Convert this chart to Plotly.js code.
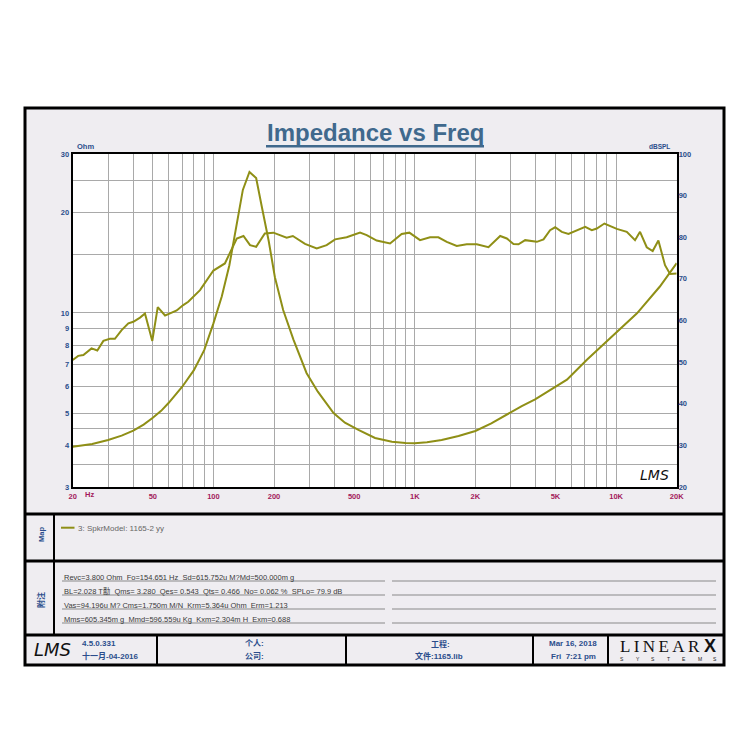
<!DOCTYPE html>
<html><head><meta charset="utf-8">
<script src="https://cdn.plot.ly/plotly-3.0.1.min.js"></script>
<style>html,body{margin:0;padding:0;background:#fff;}#chart{width:750px;height:750px;}</style>
</head><body><div id="chart"></div>
<script>
// ---- data ----
const impFreq = [20,25,30,35,40,45,50,55,60,65,70,80,90,100,110,120,130,140,151,163,174,188,202,222,250,290,330,395,450,525,635,770,900,1000,1150,1360,1650,2000,2400,2920,3400,3960,4900,5700,7140,9700,12700,16500,20000];
const impOhm  = [3.96,4.04,4.15,4.28,4.43,4.62,4.84,5.08,5.37,5.68,6.0,6.73,7.73,9.3,11.2,13.9,18.4,23.4,26.5,25.4,20.8,16.5,12.8,10.2,8.3,6.6,5.8,5.0,4.68,4.45,4.21,4.10,4.07,4.06,4.09,4.15,4.27,4.42,4.66,4.99,5.25,5.5,5.95,6.3,7.22,8.58,9.97,12.0,14.1];
const splFreq = [20,21.3,22.6,24.8,26.5,28.4,30.6,32.4,35,37.8,40,43.2,45.7,49.7,52.9,57.5,60.9,65.7,70.8,75,85.8,100,114,130.6,141,152,163,180,198.6,231,248,285,326,365,402,459,535,577,647,754,861,940,1062,1191,1310,1442,1616,1812,2032,2323,2656,2866,3093,3275,3535,4040,4360,4700,4980,5375,5800,6380,7020,7575,8020,8750,10080,11300,12420,13150,14200,15200,16220,17500,18540,20000];
const splDb   = [50.5,51.5,51.7,53.3,52.8,55.1,55.6,55.6,57.7,59.3,59.7,60.7,61.7,55.1,63.2,61.2,61.7,62.4,63.7,64.5,67.3,72.0,73.7,79.7,80.3,78.1,77.7,80.9,81.1,79.9,80.3,78.4,77.3,78.1,79.5,80.0,81.1,80.5,79.2,78.5,80.8,81.1,79.3,80.0,80.0,78.9,77.9,78.3,78.3,77.6,80.3,79.7,78.4,78.3,79.3,78.9,79.5,81.7,82.4,81.3,80.8,81.7,82.5,81.7,82.1,83.3,82.0,81.3,79.3,81.3,77.6,76.7,79.2,73.3,71.2,71.3];

const xTickVals = [20,30,40,50,60,70,80,90,100,200,300,400,500,600,700,800,900,1000,2000,3000,4000,5000,6000,7000,8000,9000,10000,20000];
const xTickText = ['20','','','50','','','','','100','200','','','500','','','','','1K','2K','','','5K','','','','','10K','20K'];
const yTickVals = [3,3.5,4,4.5,5,6,7,8,9,10,15,20,25,30];
const yTickText = ['3','','4','','5','6','7','8','9','10','','20','','30'];
const y2TickVals = [20,30,40,50,60,70,80,90,100];
const y2TickText = ['20','30','40','50','60','70','80','90','100'];

const titleText = 'Impedance vs Freq';
const legendText = '3: SpkrModel: 1165-2 yy';
const notesRows = [
  'Revc=3.800 Ohm  Fo=154.651 Hz  Sd=615.752u M?Md=500.000m g',
  'BL=2.028 T勫  Qms= 3.280  Qes= 0.543  Qts= 0.466  No= 0.062 %  SPLo= 79.9 dB',
  'Vas=94.196u M? Cms=1.750m M/N  Krm=5.364u Ohm  Erm=1.213',
  'Mms=605.345m g  Mmd=596.559u Kg  Kxm=2.304m H  Exm=0.688'
];

// ---- helpers (pixel -> paper) ----
const px = x => x/750;
const py = y => 1 - y/750;
const SANS = 'Liberation Sans, Arial, sans-serif';
const CJK = 'Liberation Sans, Noto Sans CJK SC, sans-serif';
const OLIVE = '#8f8f16';
const BLUE = '#2b4d8c';
const MAG = '#a3195b';
const BG = '#efedf1';

const PL = 72.7, PR = 676.7, PT = 154, PB = 487;

const traces = [
  {x: impFreq, y: impOhm, type:'scatter', mode:'lines', line:{color:OLIVE, width:2}, xaxis:'x', yaxis:'y', hoverinfo:'skip'},
  {x: splFreq, y: splDb, type:'scatter', mode:'lines', line:{color:OLIVE, width:2}, xaxis:'x', yaxis:'y2', hoverinfo:'skip'}
];

const shapes = [];
const ann = [];
function rect(x0,y0,x1,y1,fill,line,layer){shapes.push({type:'rect',xref:'paper',yref:'paper',x0:px(x0),x1:px(x1),y0:py(y0),y1:py(y1),fillcolor:fill||'rgba(0,0,0,0)',line:line||{width:0},layer:layer||'below'});}
function seg(x0,y0,x1,y1,color,width,layer){shapes.push({type:'line',xref:'paper',yref:'paper',x0:px(x0),x1:px(x1),y0:py(y0),y1:py(y1),line:{color:color,width:width},layer:layer||'above'});}
function txt(x,y,text,opt){opt=opt||{};ann.push({xref:'paper',yref:'paper',x:px(x),y:py(y),text:text,showarrow:false,xanchor:opt.xa||'center',yanchor:'middle',font:Object.assign({family:SANS,size:8,color:BLUE},opt.font||{}),textangle:opt.angle||0});}

// backgrounds
rect(25,108,724,665,BG);
rect(PL,PT,PR,PB,'#ffffff');
// frame lines
rect(25,108,724,665,null,{color:'#000',width:3},'above');
seg(25,514,724,514,'#000',3);
seg(25,561,724,561,'#000',3);
seg(25,635,724,635,'#000',3);
seg(54,514,54,635,'#000',2);
[157,346,533,608].forEach(x=>seg(x,635,x,665,'#000',2));
// notes underlines
[581,595,609,623].forEach(y=>{seg(62,y,385,y,'#8a8a8a',1.2);seg(392,y,716,y,'#8a8a8a',1.2);});
// title underline
seg(266,146.3,484,146.3,'#40698d',2.6);
// legend sample
seg(61,527.7,74.5,527.7,OLIVE,2);

// title
txt(375,132.5,'<b>'+titleText+'</b>',{font:{size:24,color:'#40698d'}});
// axis unit labels
txt(75,146,'<b>Ohm</b>',{xa:'left',font:{size:7.5}});
txt(672,146,'<b>dBSPL</b>',{xa:'right',font:{size:6.5}});
txt(83,494.5,'<b>Hz</b>',{xa:'left',font:{size:7.5,color:MAG}});
// watermark
txt(654,475,'LMS',{font:{family:'DejaVu Sans, sans-serif',size:14,color:'#111',style:'italic'}});
// side labels
txt(41,535,'<b>Map</b>',{angle:-90,font:{size:7.5}});
txt(41,600,'<b>附注</b>',{angle:-90,font:{family:CJK,size:8}});
// legend text
txt(76,528.3,legendText,{xa:'left',font:{size:8,color:'#666'}});
// notes
[577,591,605,619].forEach((y,i)=>txt(62,y,notesRows[i],{xa:'left',font:{family:CJK,size:7.5,color:'#3a3a3a'}}));
// footer
txt(52,649,'LMS',{font:{family:'DejaVu Sans, sans-serif',size:18,color:'#111',style:'italic'}});
txt(80,643.5,'<b>4.5.0.331</b>',{xa:'left'});
txt(80,656,'<b>十一月-04-2016</b>',{xa:'left',font:{family:CJK}});
txt(243,643.5,'<b>个人:</b>',{xa:'left',font:{family:CJK}});
txt(243,656,'<b>公司:</b>',{xa:'left',font:{family:CJK}});
txt(440,643.5,'<b>工程:</b>',{font:{family:CJK}});
txt(439,656,'<b>文件:1165.lib</b>',{font:{family:CJK}});
txt(573,643.5,'<b>Mar 16, 2018</b>');
txt(573,656,'<b>Fri  7:21 pm</b>');
txt(618,646,'L\u2009I\u2009N\u2009E\u2009A\u2009R',{xa:'left',font:{family:'Liberation Serif, serif',size:17,color:'#111'}});
txt(710,646,'<b>X</b>',{font:{family:'Liberation Sans, sans-serif',size:18,color:'#111'}});
'SYSTEMS'.split('').forEach((c,i)=>txt(622+i*15.5,659,c,{font:{size:5,color:'#222'}}));

const layout = {
  width:750, height:750,
  margin:{l:0,r:0,t:0,b:0},
  paper_bgcolor:'#ffffff',
  plot_bgcolor:'rgba(0,0,0,0)',
  showlegend:false,
  xaxis:{
    type:'log', domain:[px(PL),px(PR)], range:[Math.log10(20),Math.log10(20000)],
    tickmode:'array', tickvals:xTickVals, ticktext:xTickText,
    showgrid:true, gridcolor:'#a9a9a9', gridwidth:1,
    showline:true, linecolor:'#000', linewidth:2, mirror:true,
    ticks:'', ticklabelstandoff:1,
    tickfont:{family:SANS,size:7.5,color:MAG,weight:'bold'},
    zeroline:false, fixedrange:true
  },
  yaxis:{
    type:'log', domain:[py(PB),py(PT)], range:[Math.log10(3),Math.log10(30)],
    tickmode:'array', tickvals:yTickVals, ticktext:yTickText,
    showgrid:true, gridcolor:'#a9a9a9', gridwidth:1,
    showline:true, linecolor:'#000', linewidth:2, mirror:true,
    ticks:'', ticklabelstandoff:0,
    tickfont:{family:SANS,size:7.5,color:BLUE,weight:'bold'},
    zeroline:false, fixedrange:true
  },
  yaxis2:{
    overlaying:'y', side:'right', range:[20,100],
    tickmode:'array', tickvals:y2TickVals, ticktext:y2TickText,
    showgrid:false, showline:false, ticks:'', ticklabelstandoff:1,
    tickfont:{family:SANS,size:7.5,color:BLUE,weight:'bold'},
    zeroline:false, fixedrange:true
  },
  shapes:shapes,
  annotations:ann
};

Plotly.newPlot('chart', traces, layout, {displayModeBar:false, staticPlot:true});
</script>
</body></html>
